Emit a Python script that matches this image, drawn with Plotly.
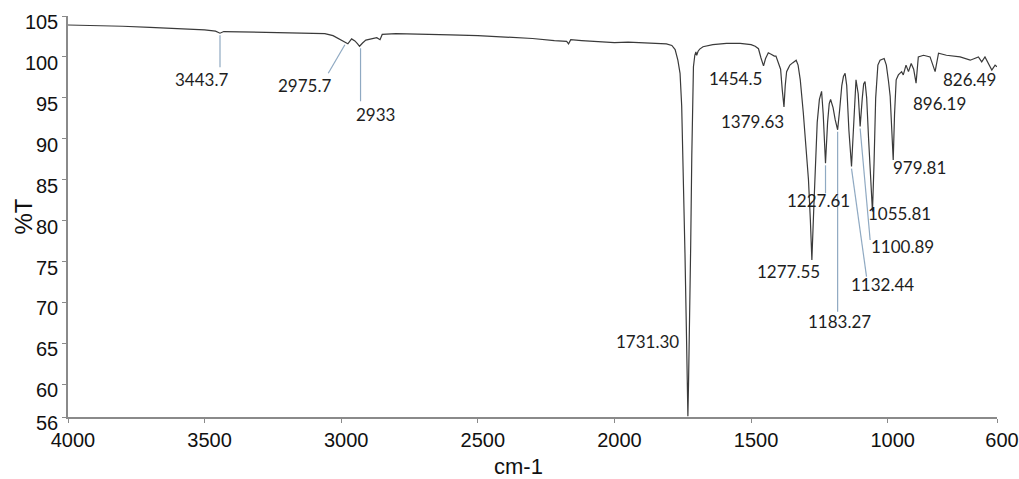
import plotly.graph_objects as go

# ---- spectrum (wavenumber cm-1, %T) ----
wavenumber = [4000, 3900, 3800, 3700, 3600, 3500, 3460, 3443.7, 3430, 3350, 3250, 3150,
              3060, 3030, 3005, 2990, 2975.7, 2962, 2950, 2940, 2933, 2922, 2910, 2890,
              2870, 2858, 2850, 2800, 2700, 2600, 2500, 2400, 2300, 2220, 2175, 2168,
              2160, 2120, 2050, 2000, 1950, 1900, 1850, 1810, 1790, 1778, 1768, 1760,
              1754, 1748, 1742, 1737, 1733, 1731.3, 1729, 1725, 1721, 1717, 1714, 1711,
              1706, 1702, 1699, 1694, 1688, 1676, 1640, 1590, 1540, 1500, 1485, 1473,
              1464, 1454.5, 1447, 1437, 1425, 1415, 1409, 1400, 1392, 1386, 1379.63,
              1375, 1370, 1364, 1358, 1347, 1335, 1328, 1320, 1309, 1298, 1290, 1283,
              1277.55, 1270, 1265, 1258, 1250, 1242, 1236, 1227.61, 1220, 1214, 1209,
              1200, 1192, 1183.27, 1176, 1168, 1162, 1156, 1150, 1142, 1132.44, 1126,
              1120, 1116, 1108, 1100.89, 1093, 1088, 1083, 1077, 1070, 1062, 1055.81,
              1050, 1044, 1036, 1028, 1013, 1005, 997, 991, 985, 979.81, 975, 969, 961,
              949, 943, 933, 924, 914, 905, 896.19, 888, 869, 845, 826.49, 814, 785,
              735, 698, 668, 656, 644, 619, 607, 600]
transmittance = [103.9, 103.85, 103.75, 103.6, 103.45, 103.3, 103.15, 102.9, 103.1, 103.05,
                 103.0, 102.95, 102.85, 102.6, 102.1, 101.8, 101.6, 102.2, 101.95, 101.6,
                 101.3, 101.7, 102.05, 102.2, 102.35, 102.1, 102.75, 102.85, 102.8, 102.7,
                 102.6, 102.45, 102.25, 102.0, 101.9, 101.6, 102.1, 102.0, 101.85, 101.75,
                 101.8, 101.75, 101.7, 101.6, 101.4, 100.9, 99.6, 98.0, 94, 86, 76, 67,
                 60, 56.1, 60, 67, 77, 88, 95, 98.8, 100.2, 100.6, 100.2, 100.7, 100.95,
                 101.25, 101.5, 101.65, 101.65, 101.5, 101.3, 101.0, 99.9, 98.9, 99.8,
                 100.5, 100.3, 100.1, 100.1, 99.3, 98.5, 96, 93.9, 96.5, 98.2, 98.6, 99.0,
                 99.3, 99.6, 99.0, 97.2, 93.2, 88.5, 85, 80, 75.2, 82, 87, 92, 94.8, 95.8,
                 93, 87.0, 92, 94.3, 94.8, 93.8, 92.3, 91.1, 93.5, 96.5, 97.6, 98.0, 96.5,
                 91, 86.6, 91, 96, 97.2, 95.5, 91.5, 95, 96.7, 97.0, 95, 90, 84, 81.1,
                 87, 95, 99, 99.6, 99.8, 99.0, 97, 95.2, 91, 87.4, 93, 97.2, 97.8, 98.2,
                 97.8, 99.0, 98.2, 99.2, 98.5, 96.8, 100.0, 100.2, 100.0, 98.2, 100.45,
                 100.2, 100.0, 99.6, 100.0, 99.4, 100.0, 98.4, 99.0, 98.8]

# ---- peak labels ----
peak_labels = ["3443.7", "2975.7", "2933", "1731.30", "1454.5", "1379.63", "1277.55",
               "1227.61", "1183.27", "1132.44", "1100.89", "1055.81", "979.81",
               "896.19", "826.49"]
peak_w = [3443.7, 2975.7, 2933, 1731.30, 1454.5, 1379.63, 1277.55, 1227.61, 1183.27,
          1132.44, 1100.89, 1055.81, 979.81, 896.19, 826.49]
peak_T = [102.9, 101.6, 101.3, 56.1, 98.9, 93.9, 75.2, 87.0, 91.1, 86.6, 91.5, 81.1,
          87.4, 96.8, 98.2]

# label placement (pixels, relative to the peak; y up positive)
label_dx = [-18.5, -43, 15.5, -40, -28, -31, -23.6, -7.2, 1.4, 30.8, 42.2, 27.5, 25.8, 23.9, 33.9]
label_dy = [-46.8, -41.2, -68.7, 74.2, -12.4, -14.9, -11.8, -36.7, -191.9, -117.7, -120.2, -1.7, -7.3, -20.2, -8.3]

# leader lines (pixel offsets relative to the peak; y up positive), None = no line
leaders = [(0, -2, 0, -34), (-3, -1, -19.6, -29.5), (1, -2, 1, -55), None, None, None, None,
           (0, -2, 0, -30), (0, -2, 0, -182), (0, -2, 15, -110), (0, -2, 10, -113.5),
           None, None, None, None]

x_ticks = [4000, 3500, 3000, 2500, 2000, 1500, 1000, 600]
y_ticks = [56, 60, 65, 70, 75, 80, 85, 90, 95, 100, 105]

fig = go.Figure()
fig.add_trace(go.Scatter(x=wavenumber, y=transmittance, mode="lines",
                         line=dict(color="#3a3a3a", width=1.2), hoverinfo="x+y",
                         showlegend=False))

annotations = []
for lab, w, t, dx, dy in zip(peak_labels, peak_w, peak_T, label_dx, label_dy):
    annotations.append(dict(x=w, y=t, xref="x", yref="y", text=lab, showarrow=False,
                            xanchor="center", yanchor="middle", xshift=dx, yshift=dy,
                            font=dict(family="Lato", size=17, color="#1e1e1e")))

shapes = []
for w, t, ld in zip(peak_w, peak_T, leaders):
    if ld is None:
        continue
    x0, y0, x1, y1 = ld
    shapes.append(dict(type="line", xref="x", yref="y", xsizemode="pixel", ysizemode="pixel",
                       xanchor=w, yanchor=t, x0=x0, x1=x1, y0=y0, y1=y1,
                       line=dict(color="#8fa9c2", width=1.2)))

# axis titles
annotations.append(dict(x=0.5, y=0, xref="paper", yref="paper", text="cm-1", showarrow=False,
                        xanchor="center", yanchor="middle", xshift=-14, yshift=-49,
                        font=dict(family="Liberation Sans", size=22, color="#111")))
annotations.append(dict(x=0, y=0.5, xref="paper", yref="paper", text="%T", showarrow=False,
                        textangle=-90, xanchor="center", yanchor="middle", xshift=-45,
                        font=dict(family="Liberation Sans", size=24, color="#111")))

axis_common = dict(showline=True, linecolor="#8a8a8a", linewidth=1.5, ticks="outside",
                   ticklen=4, tickcolor="#8a8a8a", tickwidth=1, showgrid=False,
                   zeroline=False, automargin=False,
                   tickfont=dict(family="Liberation Sans", size=20, color="#111"))

fig.update_layout(
    width=1019, height=479,
    margin=dict(l=68, r=22, t=16, b=62, pad=0, autoexpand=False),
    paper_bgcolor="white", plot_bgcolor="white",
    xaxis=dict(range=[4000, 600], tickvals=x_ticks, ticklabelshift=-5,
               ticklabeloverflow="allow", **axis_common),
    yaxis=dict(range=[56, 105], tickvals=y_ticks, ticklabelshift=6,
               ticklabeloverflow="allow", **axis_common),
    annotations=annotations, shapes=shapes,
)

fig.write_html("out.html", config={"displayModeBar": False},
               post_script="document.body.style.margin='0';")
